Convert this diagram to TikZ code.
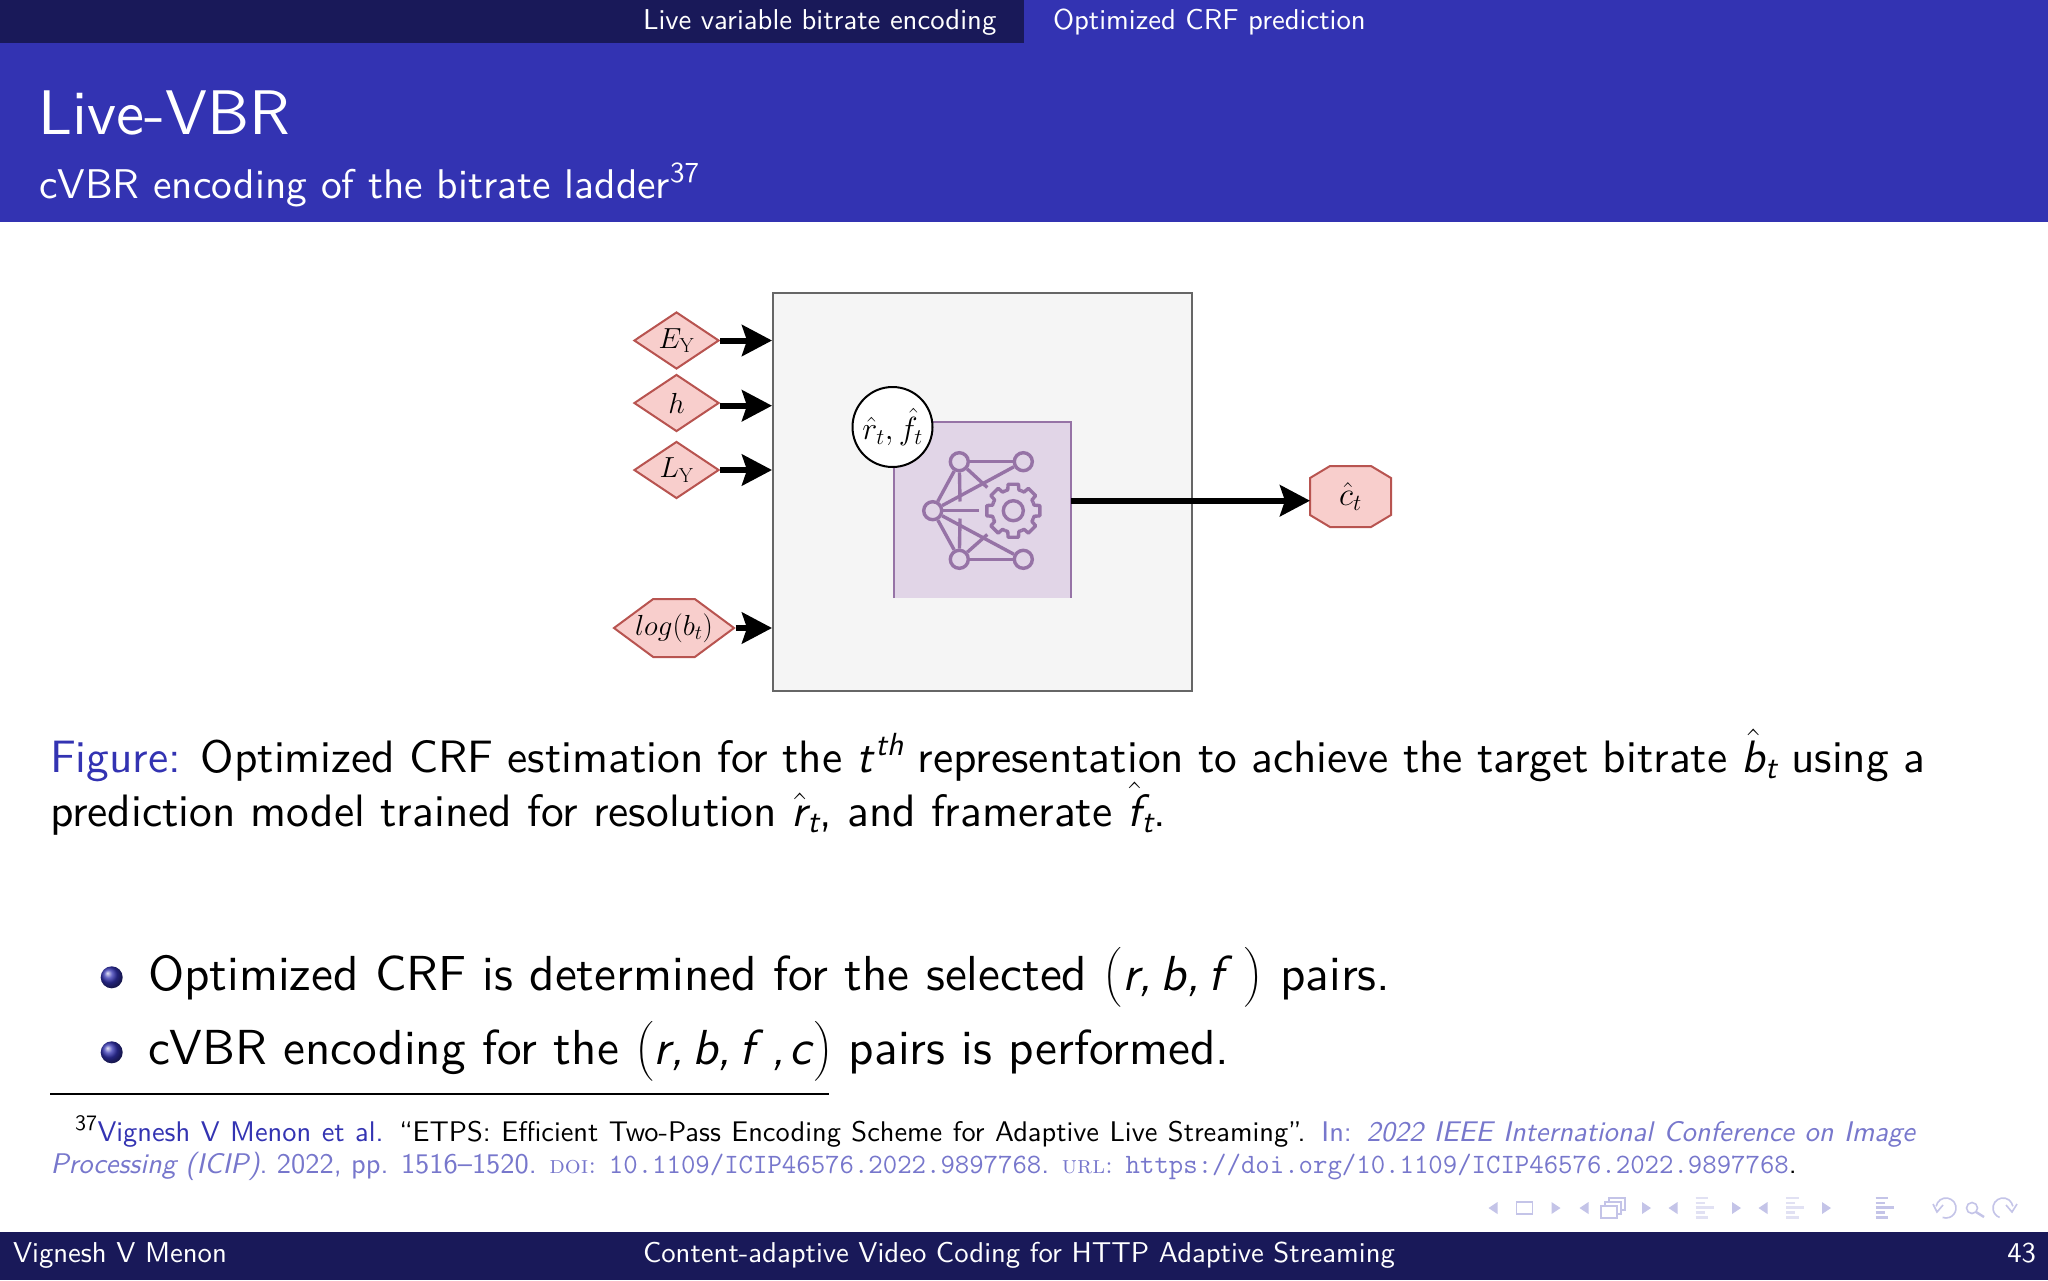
\RequirePackage{fix-cm}
\documentclass[tikz,border=0pt]{standalone}
\usepackage{fontspec}
\usepackage{amsmath}
\setsansfont{lmsans10-regular.otf}[ItalicFont=lmsans10-oblique.otf]
\usetikzlibrary{arrows.meta,shapes.geometric,shapes.symbols}
\definecolor{hdr}{HTML}{3333B2}
\definecolor{dk}{HTML}{191959}
\definecolor{pinkf}{HTML}{F8CECC}
\definecolor{pinkd}{HTML}{B85450}
\definecolor{grayf}{HTML}{F5F5F5}
\definecolor{grayd}{HTML}{666666}
\definecolor{purf}{HTML}{E1D5E7}
\definecolor{purd}{HTML}{9673A6}
\definecolor{bibc}{HTML}{7777CC}
\definecolor{navc}{HTML}{C4C4E8}
\newcommand{\fs}[1]{\fontsize{#1}{#1}\selectfont}
\newcommand{\mi}[1]{\textit{#1}}
\newcommand{\hatmi}[1]{$\hat{\text{\sffamily\itshape #1}}$}
\tikzset{
  x=1pt,y=-1pt,
  txt/.style={anchor=base west,inner sep=0pt,outer sep=0pt,font=\sffamily},
  pinkdia/.style={diamond,fill=pinkf,draw=pinkd,line width=2pt,inner sep=0pt,minimum width=85pt,minimum height=57pt,aspect=1.5},
  arr/.style={line width=6pt,-{Stealth[length=30pt,width=31pt,inset=5pt]},black},
  ico/.style={line width=3.4pt,purd},
  iconode/.style={circle,draw=purd,line width=3.4pt,minimum size=18pt,inner sep=0pt},
  navl/.style={line width=1.6pt,navc},
  navt/.style={fill=navc,draw=none},
}
\begin{document}
\begin{tikzpicture}
\useasboundingbox (0,0) rectangle (2048,1280);
\fill[white] (0,0) rectangle (2048,1280);
% header
\fill[hdr] (0,0) rectangle (2048,222);
\fill[dk] (0,0) rectangle (1024,43);
\node[txt,text=white] (tabA) at (643,29) {\fs{28.7}Live variable bitrate encoding};
\node[txt,text=white] (tabB) at (1053,29) {\fs{28.7}Optimized CRF prediction};
\node[txt,text=white] (title) at (38.5,134) {\fs{63}Live-VBR};
\node[txt,text=white] (sub) at (39,198) {\fs{41.5}cVBR encoding of the bitrate ladder$^{\text{\sffamily\fs{29}37}}$};
% diagram
\node[draw=grayd,fill=grayf,line width=2pt,minimum width=419pt,minimum height=398pt,inner sep=0pt] (box) at (982.5,492) {};
\node[fill=purf,minimum width=177pt,minimum height=176pt,inner sep=0pt] (nn) at (982.5,510) {};
\draw[purd,line width=1.6pt] (nn.south west) -- (nn.north west) -- (nn.north east) -- (nn.south east);
% icon
\node[iconode] (tl) at (959.3,461.7) {};
\node[iconode] (tr) at (1023.3,461.7) {};
\node[iconode] (lf) at (932.7,510.7) {};
\node[iconode] (bl) at (959.3,559.3) {};
\node[iconode] (br) at (1023.3,559.3) {};
\coordinate (g) at (1013.3,510.7);
\coordinate (hh) at (979.3,510.7);
\coordinate (v1) at (960,501.5);
\coordinate (v2) at (960,518.5);
\coordinate (d1) at (987.3,487.5);
\coordinate (d2) at (987.3,534.5);
\draw[ico] (lf) -- (tl); \draw[ico] (lf) -- (bl);
\draw[ico] (tl) -- (tr); \draw[ico] (bl) -- (br);
\draw[ico] (lf) -- (tr); \draw[ico] (lf) -- (br);
\draw[ico] (lf) -- (hh);
\draw[ico] (tl) -- (v1); \draw[ico] (bl) -- (v2);
\draw[ico] (tl) -- (d1); \draw[ico] (bl) -- (d2);
\draw[ico] (g) circle (10);
\foreach \a in {0,45,...,315}{
  \draw[ico,line join=round,shift={(g)}] (\a-22.5:21.5) -- (\a-15:21.5) -- (\a-11:27) -- (\a+11:27) -- (\a+15:21.5) -- (\a+22.5:21.5);
}
% side nodes
\node[circle,draw=black,fill=white,line width=2pt,minimum size=80pt,inner sep=0pt] (rf) at (892.5,427) {\fs{32}$\hat{r}_t,\hat{f}_t$};
\node[pinkdia] (ey) at (676.5,340.5) {\fs{29}$E_{\mathrm{Y}}$};
\node[pinkdia] (h) at (676.5,403) {\fs{29}$h$};
\node[pinkdia] (ly) at (676.5,470) {\fs{29}$L_{\mathrm{Y}}$};
\node[signal,signal to=west and east,signal pointer angle=73,fill=pinkf,draw=pinkd,line width=2pt,inner sep=0pt,minimum width=120pt,minimum height=58pt,label={[inner sep=0pt]center:\fs{29}$log(b_t)$}] (lg) at (674,628) {};
\node[minimum width=81pt,minimum height=61pt,inner sep=0pt,outer sep=0pt] (ct) at (1350.5,496.5) {};
\filldraw[fill=pinkf,draw=pinkd,line width=2pt]
  ([xshift=20pt]ct.north west) -- ([xshift=-20pt]ct.north east)
  -- ([yshift=-12pt]ct.north east) -- ([yshift=12pt]ct.south east)
  -- ([xshift=-20pt]ct.south east) -- ([xshift=20pt]ct.south west)
  -- ([yshift=12pt]ct.south west) -- ([yshift=-12pt]ct.north west) -- cycle;
\node[inner sep=0pt] (ctl) at (ct.center) {\fs{33}$\hat{c}_t$};
\draw[arr] (ey.east) -- (ey.east -| box.west);
\draw[arr] ([yshift=-2.7pt]h.east) -- ([yshift=-2.7pt]h.east -| box.west);
\draw[arr] (ly.east) -- (ly.east -| box.west);
\draw[arr] (lg.east) -- (lg.east -| box.west);
\draw[arr] ([yshift=9.3pt]nn.east) -- ([yshift=9.3pt]nn.east -| ct.west);
% caption
\node[txt] (cap1) at (50,772) {\makebox[1875pt][s]{\fs{45.4}\textcolor{hdr}{Figure:} Optimized CRF estimation for the \mi{t}$^{\mi{\fs{32}th}}$ representation to achieve the target bitrate \hatmi{b}$_{\mi{\fs{32}t}}$ using a}};
\node[txt] (cap2) at (50,826) {\fs{45.4}prediction model trained for resolution \hatmi{r}$_{\mi{\fs{32}t}}$, and framerate \hatmi{f}$_{\mi{\fs{32}t}}$.};
% bullets
\shade[ball color=hdr] (111.7,977.3) circle (11);
\shade[ball color=hdr] (111.7,1052.3) circle (11);
\node[txt] (b1) at (148,990) {\fs{49.2}Optimized CRF is determined for the selected $\bigl($\mi{r,\,b,\,f}\kern12pt$\bigr)$\kern1pt{} pairs.};
\node[txt] (b2) at (148,1064) {\fs{49.2}cVBR encoding for the $\bigl($\mi{r,\,b,\,f\,\,,\kern5pt c}$\bigr)$ pairs is performed.};
% footnote
\coordinate (ruleA) at (50,1094);
\coordinate (ruleB) at (829,1094);
\draw[black,line width=1.7pt] (ruleA) -- (ruleB);
\node[txt] (fn1) at (75,1141) {\makebox[1841pt][s]{\fs{28.4}$^{\text{\sffamily\fs{22}37}}$\textcolor{hdr}{Vignesh V Menon et al.} ``ETPS: Efficient Two-Pass Encoding Scheme for Adaptive Live Streaming''. \textcolor{bibc}{In: \textit{2022 IEEE International Conference on Image}}}};
\node[txt] (fn2) at (50.5,1173) {\fs{28.4}\textcolor{bibc}{\textit{Processing (ICIP)}. 2022, pp. 1516--1520. {\fontspec{Latin Modern Roman Caps}\fs{25}doi:} \texttt{\fs{28}10.1109/ICIP46576.2022.9897768}. {\fontspec{Latin Modern Roman Caps}\fs{25}url:} \texttt{\fs{28}https://doi.org/10.1109/ICIP46576.2022.9897768}}.};
% nav symbols
\foreach \x/\d in {1493/-1,1556/1,1584/-1,1646.5/1,1673/-1,1736.5/1,1763/-1,1826.5/1}{
  \fill[navt] (\x+\d*4.5,1208) -- (\x-\d*4.5,1202) -- (\x-\d*4.5,1214) -- cycle;
}
\draw[navl] (1516.5,1202) rectangle (1532.5,1214);
\draw[navl] (1601,1206) rectangle (1617,1218);
\draw[navl] (1605,1206) -- (1605,1202) -- (1621,1202) -- (1621,1214) -- (1617,1214);
\draw[navl] (1609,1202) -- (1609,1198) -- (1625,1198) -- (1625,1210) -- (1621,1210);
\foreach \x/\w/\o in {1704.5/9/0.5,1795/9/0.5,1884.5/9/1}{
  \foreach \k/\f in {0/.7,1/.5,2/1,3/.5,4/.7}{
    \draw[navc,opacity=\o+.0,line width=2.6pt] (\x-\w,1198+\k*4.8) -- (\x-\w+2*\w*\f,1198+\k*4.8);
  }
}
\coordinate (undo) at (1946,1208);
\coordinate (redo) at (2003,1208);
\draw[navl] (undo) ++(-170:10) arc (-170:110:10);
\draw[navl] (1933,1204) -- (1937,1212) -- (1943,1205);
\draw[navl] (1972,1208) circle (5.5);
\draw[navl,line width=2.4pt] (1976,1212) -- (1984,1217);
\draw[navl] (redo) ++(-10:10) arc (-10:-250:10);
\draw[navl] (2017,1204) -- (2012,1212) -- (2006,1205);
% footer
\fill[dk] (0,1232) rectangle (2048,1280);
\node[txt,text=white] (fa) at (13,1262) {\fs{28.7}Vignesh V Menon};
\node[txt,text=white,anchor=base] (fb) at (1019,1262) {\fs{28.7}Content-adaptive Video Coding for HTTP Adaptive Streaming};
\node[txt,text=white,anchor=base east] (fc) at (2036,1262) {\fs{28.7}43};
\end{tikzpicture}
\end{document}
